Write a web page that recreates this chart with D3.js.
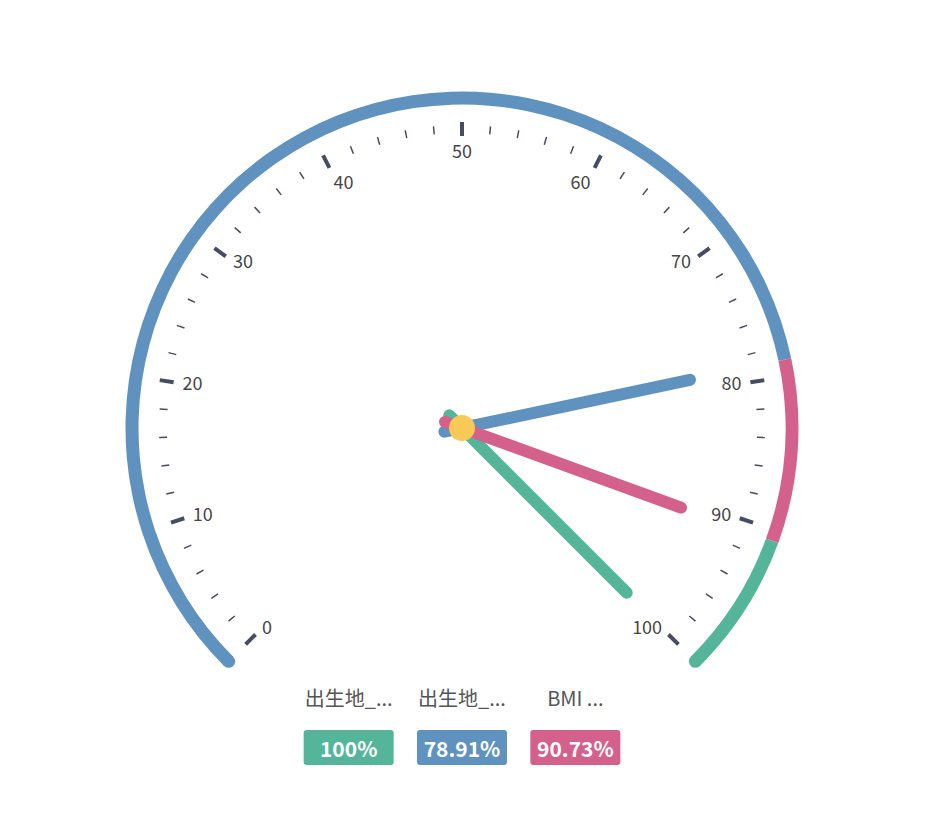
<!DOCTYPE html>
<html>
<head>
<meta charset="utf-8">
<script src="https://cdn.jsdelivr.net/npm/d3@7/dist/d3.min.js"></script>
<style>
  html, body { margin: 0; padding: 0; background: #fff; }
  svg text { font-family: "Noto Sans CJK SC", "Noto Sans", sans-serif; }
</style>
</head>
<body>
<div id="chart"></div>
<script>
// gauge data
var seriesNames = ["出生地_...", "出生地_...", "BMI ..."];
var seriesValues = [100, 78.91, 90.73];
var seriesLabels = ["100%", "78.91%", "90.73%"];
var tickLabels = [0, 10, 20, 30, 40, 50, 60, 70, 80, 90, 100];
// axis line bands: upper bound of each colour band
var bandStops = [78.91, 90.73, 100];

var width = 925, height = 816;
var cx = 462, cy = 428;
var colors = ["#55b59a", "#6092c0", "#d3618b"];
var bandColors = ["#6092c0", "#d3618b", "#55b59a"];

var svg = d3.select("#chart").append("svg")
    .attr("width", width)
    .attr("height", height);

var g = svg.append("g")
    .attr("transform", "translate(" + cx + "," + cy + ")");

// value -> angle in degrees (math convention, 0 = right, ccw)
var angle = d3.scaleLinear().domain([0, 100]).range([225, -45]);

function pt(v, r) {
    var a = angle(v) * Math.PI / 180;
    return [r * Math.cos(a), -r * Math.sin(a)];
}

// axis line
var arcR = 330, arcW = 13;
var arc = d3.arc()
    .innerRadius(arcR - arcW / 2)
    .outerRadius(arcR + arcW / 2);

// d3.arc angles: 0 = top, clockwise
function arcAngle(v) { return (90 - angle(v)) * Math.PI / 180; }

var prev = 0;
bandStops.forEach(function(stop, i) {
    g.append("path")
        .attr("d", arc({startAngle: arcAngle(prev), endAngle: arcAngle(stop)}))
        .attr("fill", bandColors[i]);
    prev = stop;
});
// rounded ends
[[0, bandColors[0]], [100, bandColors[bandColors.length - 1]]].forEach(function(e) {
    var p = pt(e[0], arcR);
    g.append("circle")
        .attr("cx", p[0]).attr("cy", p[1])
        .attr("r", arcW / 2)
        .attr("fill", e[1]);
});

// ticks
var tickColor = "#464c63";
var minorTicks = d3.range(0, 101, 2);
g.selectAll("line.minor")
    .data(minorTicks.filter(function(d) { return d % 10 !== 0; }))
    .enter().append("line")
    .attr("class", "minor")
    .attr("x1", function(d) { return pt(d, 295)[0]; })
    .attr("y1", function(d) { return pt(d, 295)[1]; })
    .attr("x2", function(d) { return pt(d, 303)[0]; })
    .attr("y2", function(d) { return pt(d, 303)[1]; })
    .attr("stroke", tickColor)
    .attr("stroke-width", 1.5);

g.selectAll("line.major")
    .data(tickLabels)
    .enter().append("line")
    .attr("class", "major")
    .attr("x1", function(d) { return pt(d, 292)[0]; })
    .attr("y1", function(d) { return pt(d, 292)[1]; })
    .attr("x2", function(d) { return pt(d, 306)[0]; })
    .attr("y2", function(d) { return pt(d, 306)[1]; })
    .attr("stroke", tickColor)
    .attr("stroke-width", 4);

// tick labels, aligned like a gauge: edge nearest the ticks sits on the radius
var labelR = 283;
function unit(d) {
    var a = angle(d) * Math.PI / 180;
    return [Math.cos(a), -Math.sin(a)];
}
g.selectAll("text.tick")
    .data(tickLabels)
    .enter().append("text")
    .attr("class", "tick")
    .attr("x", function(d) { return pt(d, labelR)[0]; })
    .attr("y", function(d) {
        var u = unit(d), y = pt(d, labelR)[1];
        return u[1] < -0.8 ? y + 5 : y - 2;
    })
    .attr("text-anchor", function(d) {
        var u = unit(d);
        return u[0] < -0.4 ? "start" : (u[0] > 0.4 ? "end" : "middle");
    })
    .attr("dominant-baseline", "central")
    .attr("font-size", 18)
    .attr("fill", "#464646")
    .text(function(d) { return d; });

// needles (drawn green, blue, pink)
var order = [0, 1, 2];
g.selectAll("line.needle")
    .data(order)
    .enter().append("line")
    .attr("class", "needle")
    .attr("x1", function(i) { return pt(seriesValues[i], -18)[0]; })
    .attr("y1", function(i) { return pt(seriesValues[i], -18)[1]; })
    .attr("x2", function(i) { return pt(seriesValues[i], 233)[0]; })
    .attr("y2", function(i) { return pt(seriesValues[i], 233)[1]; })
    .attr("stroke", function(i) { return colors[i]; })
    .attr("stroke-width", 12)
    .attr("stroke-linecap", "round");

g.append("circle")
    .attr("r", 13)
    .attr("fill", "#f9c957");

// legend titles and value boxes
var lx = d3.scaleBand().domain(d3.range(seriesNames.length)).range([292, 632]);

var legend = svg.selectAll("g.legend")
    .data(d3.range(seriesNames.length))
    .enter().append("g")
    .attr("class", "legend")
    .attr("transform", function(i) {
        return "translate(" + (lx(i) + lx.bandwidth() / 2) + ",0)";
    });

legend.append("text")
    .attr("y", 697)
    .attr("text-anchor", "middle")
    .attr("dominant-baseline", "central")
    .attr("font-size", 20)
    .attr("fill", "#555")
    .text(function(i) { return seriesNames[i]; });

legend.append("rect")
    .attr("x", -45)
    .attr("y", 730)
    .attr("width", 90)
    .attr("height", 35)
    .attr("rx", 3)
    .attr("fill", function(i) { return colors[i]; });

legend.append("text")
    .attr("y", 747.5)
    .attr("text-anchor", "middle")
    .attr("dominant-baseline", "central")
    .attr("font-size", 21)
    .attr("font-weight", "bold")
    .attr("fill", "#fff")
    .text(function(i) { return seriesLabels[i]; });
</script>
</body>
</html>
